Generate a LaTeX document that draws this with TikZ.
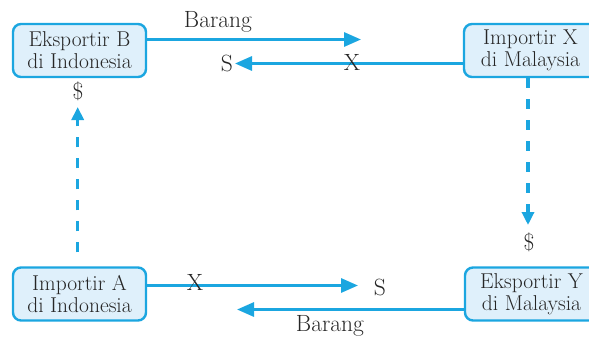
\documentclass[tikz,border=0pt]{standalone}
\usetikzlibrary{arrows.meta}
\definecolor{flowblue}{HTML}{1BA6E0}
\definecolor{boxfill}{HTML}{DFF0FB}
\definecolor{inkgray}{HTML}{262626}
\tikzset{
  party/.style={rectangle, rounded corners=8pt, draw=flowblue, line width=2.4pt,
    fill=boxfill, minimum width=133pt, minimum height=53pt, align=center,
    text=inkgray, font=\fontsize{21.5}{22}\selectfont, inner sep=0pt},
  flow/.style={draw=flowblue, line width=3pt, -{Triangle[length=17pt,width=14pt]}},
  money/.style={draw=flowblue, line width=3.2pt, dash pattern=on 10pt off 11pt,
    -{Triangle[length=13pt,width=12pt]}},
  tag/.style={text=inkgray, font=\fontsize{23.5}{24}\selectfont, inner sep=0pt},
}
\begin{document}
\begin{tikzpicture}[x=1pt,y=-1pt]
  \useasboundingbox (0,0) rectangle (589,337);
  \clip (0,0) rectangle (589,337);

  % trading parties
  \node[party] (B) at (79.5,50.5) {Eksportir B\\di Indonesia};
  \node[party] (X) at (530.5,50.5) {Importir X\\di Malaysia};
  \node[party] (A) at (79.5,294) {Importir A\\di Indonesia};
  \node[party] (Y) at (531.5,294) {Eksportir Y\\di Malaysia};

  % arrow tips
  \coordinate (t1) at (361,39.5);
  \coordinate (t2) at (235,63.5);
  \coordinate (t3) at (358,285.5);
  \coordinate (t4) at (237,309.5);
  \coordinate (tL) at (77.7,107);
  \coordinate (tR) at (528,225);

  % goods and currency flows
  \draw[flow] (B.east |- t1) -- (t1);
  \draw[flow] (X.west |- t2) -- (t2);
  \draw[flow] (A.east |- t3) -- (t3);
  \draw[flow] (Y.west |- t4) -- (t4);

  % dollar payments
  \draw[money] (A.north -| tL) ++(0,-14) -- (tL);
  \draw[money] (X.south -| tR) -- (tR);

  % labels
  \node[tag] (lb1) at (218,22) {Barang};
  \node[tag] (ls1) at (227,63) {S};
  \node[tag] (lx1) at (352,62) {X};
  \node[tag] (ld1) at (78,91) {\$};
  \node[tag] (ld2) at (529,242) {\$};
  \node[tag] (lx2) at (195,282.5) {X};
  \node[tag] (ls2) at (380,287) {S};
  \node[tag] (lb2) at (330,326) {Barang};
\end{tikzpicture}
\end{document}
